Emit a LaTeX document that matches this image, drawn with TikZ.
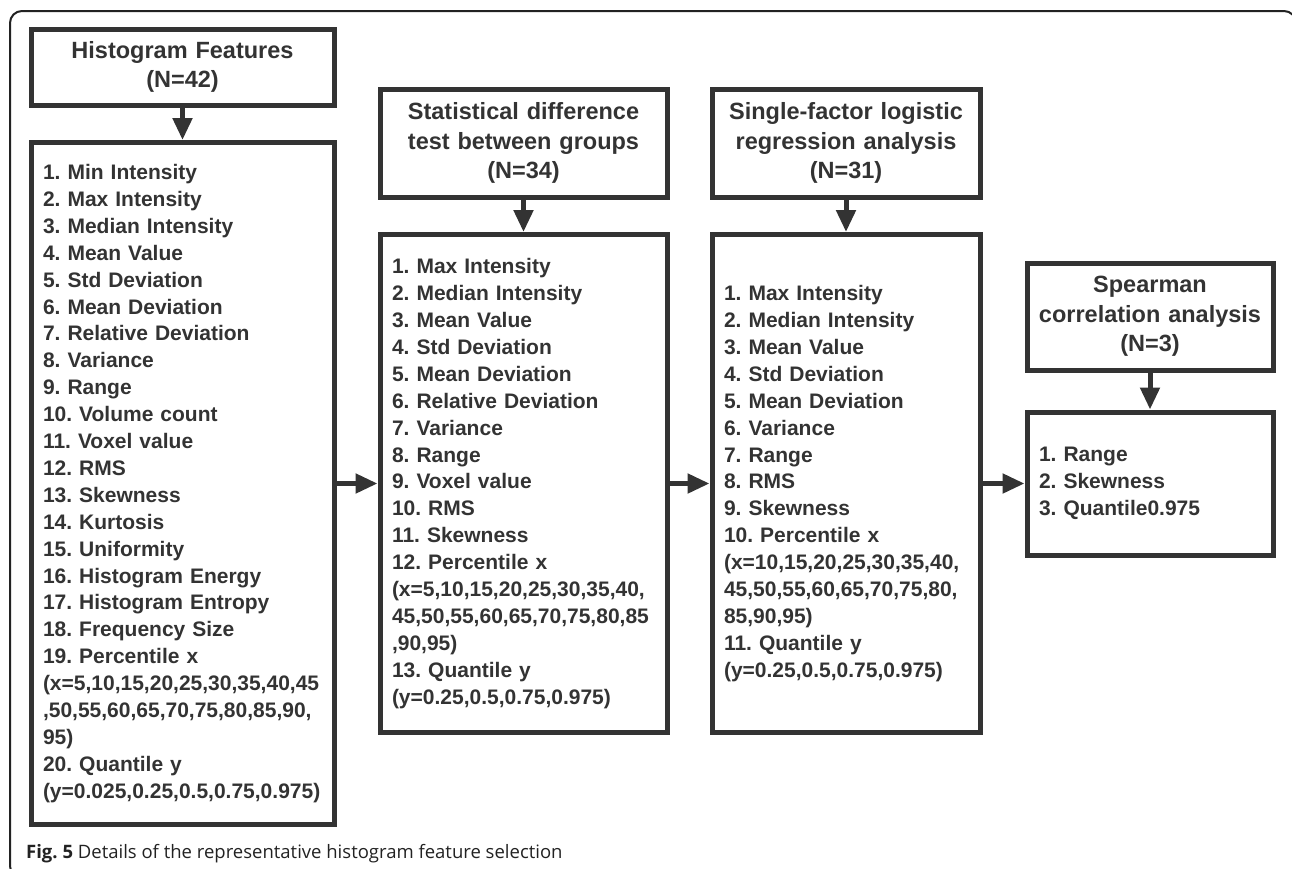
\documentclass[tikz,border=0pt]{standalone}
\usepackage{fontspec}
\setmainfont{Liberation Sans}
\newfontfamily\capfont{Open Sans}
\usetikzlibrary{arrows.meta}
\definecolor{ink}{HTML}{333333}
\definecolor{framec}{HTML}{222222}
\tikzset{
  box/.style={draw=ink, line width=5pt, rectangle, inner xsep=12pt, inner ysep=0pt, text=ink},
  titlebox/.style={box, inner xsep=4pt, align=center, font=\bfseries\fontsize{23.5}{29.5}\selectfont},
  listbox/.style={box, align=left, font=\bfseries\fontsize{21}{26.9}\selectfont},
  arr/.style={draw=ink, line width=5pt, -{Triangle[length=22pt,width=19pt]}},
}
\begin{document}
\frenchspacing
\begin{tikzpicture}[x=1pt,y=-1pt]
\useasboundingbox (0,0) rectangle (1292,868);
\clip (0,0) rectangle (1292,868);
\draw[framec, line width=2pt, rounded corners=12pt] (10,11) rectangle (1296,878);

% column A
\node[titlebox, minimum width=303pt, minimum height=76pt, text width=295pt] (At) at (182.5,67)
  {Histogram Features\\(N=42)};
\node[listbox, minimum width=303pt, minimum height=682pt, text width=279pt] (Al) at (182.5,483.5)
  {1. Min Intensity\\2. Max Intensity\\3. Median Intensity\\4. Mean Value\\5. Std Deviation\\6. Mean Deviation\\7. Relative Deviation\\8. Variance\\9. Range\\10. Volume count\\11. Voxel value\\12. RMS\\13. Skewness\\14. Kurtosis\\15. Uniformity\\16. Histogram Energy\\17. Histogram Entropy\\18. Frequency Size\\19. Percentile x\\(x=5,10,15,20,25,30,35,40,45\\,50,55,60,65,70,75,80,85,90,\\95)\\20. Quantile y\\(y=0.025,0.25,0.5,0.75,0.975)};

% column B
\node[titlebox, minimum width=287pt, minimum height=108pt, text width=279pt] (Bt) at (523.5,143)
  {Statistical difference\\test between groups\\(N=34)};
\node[listbox, minimum width=287pt, minimum height=498pt, text width=263pt] (Bl) at (523.5,483.5)
  {1. Max Intensity\\2. Median Intensity\\3. Mean Value\\4. Std Deviation\\5. Mean Deviation\\6. Relative Deviation\\7. Variance\\8. Range\\9. Voxel value\\10. RMS\\11. Skewness\\12. Percentile x\\(x=5,10,15,20,25,30,35,40,\\45,50,55,60,65,70,75,80,85\\,90,95)\\13. Quantile y\\(y=0.25,0.5,0.75,0.975)};

% column C
\node[titlebox, minimum width=268pt, minimum height=108pt, text width=260pt] (Ct) at (846,143)
  {Single-factor logistic\\regression analysis\\(N=31)};
\node[listbox, minimum width=268pt, minimum height=498pt, text width=244pt] (Cl) at (846,483.5)
  {1. Max Intensity\\2. Median Intensity\\3. Mean Value\\4. Std Deviation\\5. Mean Deviation\\6. Variance\\7. Range\\8. RMS\\9. Skewness\\10. Percentile x\\(x=10,15,20,25,30,35,40,\\45,50,55,60,65,70,75,80,\\85,90,95)\\11. Quantile y\\(y=0.25,0.5,0.75,0.975)};

% column D
\node[titlebox, minimum width=246pt, minimum height=107pt, text width=238pt] (Dt) at (1150,316.5)
  {Spearman\\correlation analysis\\(N=3)};
\node[listbox, minimum width=246pt, minimum height=143pt, text width=222pt] (Dl) at (1150,483.5)
  {1. Range\\2. Skewness\\3. Quantile0.975};

% connectors
\draw[arr] (At) -- (Al);
\draw[arr] (Bt) -- (Bl);
\draw[arr] (Ct) -- (Cl);
\draw[arr] (Dt) -- (Dl);
\draw[arr] (Al) -- (Bl);
\draw[arr] (Bl) -- (Cl);
\draw[arr] (Cl) -- (Dl);

% caption
\node[anchor=base west, inner sep=0pt, font=\capfont\fontsize{18.5}{22}\selectfont, text=framec] (cap) at (26,858)
  {\textbf{Fig. 5} Details of the representative histogram feature selection};
\end{tikzpicture}
\end{document}
